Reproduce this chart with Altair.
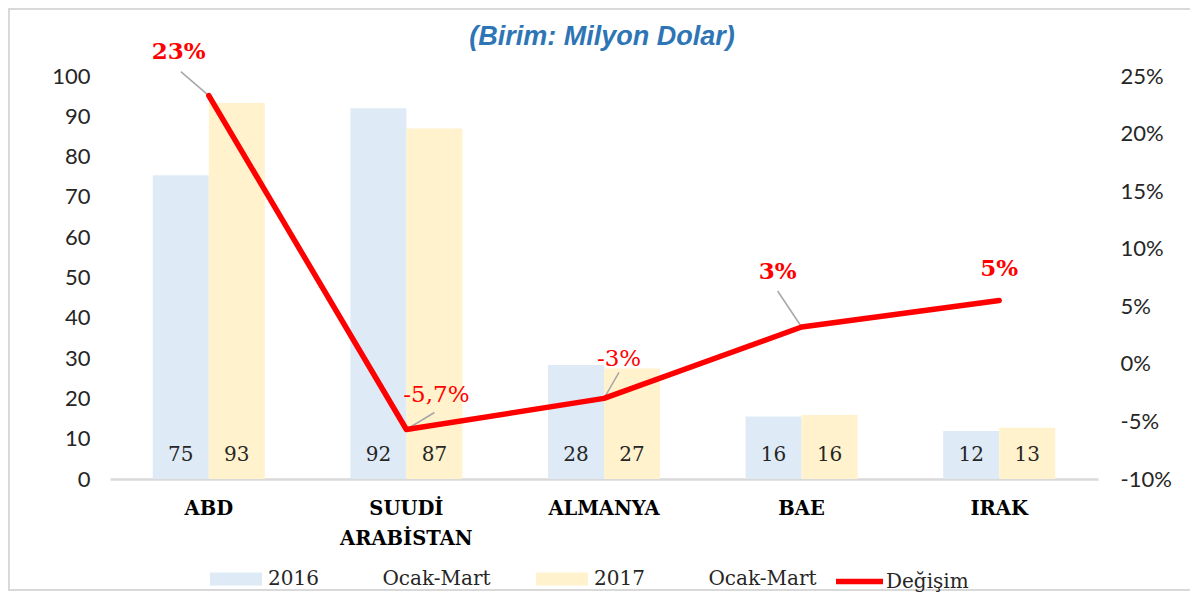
import altair as alt
import pandas as pd

NB = "\u00a0"

# ---------------- data ----------------
categories = ["ABD", "SUUDİ ARABİSTAN", "ALMANYA", "BAE", "IRAK"]
series_names = ["2016" + NB * 10 + "Ocak-Mart", "2017" + NB * 10 + "Ocak-Mart"]
values_2016 = [75.4, 92.0, 28.3, 15.5, 11.9]
values_2017 = [93.3, 87.0, 27.4, 15.9, 12.7]
change_pct = [23.3, -5.7, -3.0, 3.2, 5.5]
change_labels = ["23%", "-5,7%", "-3%", "3%", "5%"]
line_name = "Değişim"
left_ticks = [0, 10, 20, 30, 40, 50, 60, 70, 80, 90, 100]
right_ticks = [-10, -5, 0, 5, 10, 15, 20, 25]
title_text = "(Birim: Milyon Dolar)"

bar_df = pd.DataFrame(
    {
        "cat": categories * 2,
        "series": [series_names[0]] * len(categories) + [series_names[1]] * len(categories),
        "value": values_2016 + values_2017,
    }
)
line_df = pd.DataFrame(
    {"cat": categories, "pct": change_pct, "label": change_labels, "series": [line_name] * len(categories)}
)

# ---------------- styles ----------------
SERIF = "DejaVu Serif"
SANS = "Lato"
BLUE = "#DEEBF7"
YELLOW = "#FFF2CC"
RED = "#FF0000"
GRAY = "#D9D9D9"

x_scale = alt.Scale(domain=categories, paddingInner=0.433, paddingOuter=0.2165)
x_axis = alt.Axis(
    title=None,
    labelAngle=0,
    ticks=False,
    domainColor=GRAY,
    domainWidth=2.5,
    labelFont=SERIF,
    labelFontWeight="bold",
    labelFontSize=19.5,
    labelColor="#000000",
    labelPadding=20,
    labelBaseline="top",
    labelLineHeight=30,
    labelExpr="split(datum.label, ' ')",
)
left_axis = alt.Axis(
    title=None,
    values=left_ticks,
    domain=False,
    ticks=False,
    grid=False,
    labelFont=SANS,
    labelFontSize=22,
    labelColor="#262626",
    labelPadding=20,
)
right_axis = alt.Axis(
    title=None,
    orient="right",
    values=right_ticks,
    labelExpr="datum.value + '%'",
    domain=False,
    ticks=False,
    grid=False,
    labelFont=SANS,
    labelFontSize=22,
    labelColor="#262626",
    labelPadding=22,
)
left_scale = alt.Scale(domain=[0, 100], nice=False)
right_scale = alt.Scale(domain=[-10, 25], nice=False)


def X():
    return alt.X("cat:N", sort=categories, scale=x_scale, axis=x_axis)


bars = alt.Chart(bar_df).mark_bar().encode(
    x=X(),
    xOffset=alt.XOffset("series:N", sort=series_names),
    y=alt.Y("value:Q", scale=left_scale, axis=left_axis),
    fill=alt.Fill(
        "series:N",
        scale=alt.Scale(domain=series_names, range=[BLUE, YELLOW]),
        legend=alt.Legend(
            title=None,
            orient="none",
            legendX=100,
            legendY=477,
            direction="horizontal",
            symbolType="M-1,-0.25H1V0.25H-1Z",
            symbolSize=2704,
            symbolStrokeWidth=0,
            labelFont=SERIF,
            labelFontSize=20,
            labelColor="#262626",
            labelOffset=6,
            labelLimit=500,
            columnPadding=45,
            padding=0,
        ),
    ),
)

bar_text = alt.Chart(bar_df).mark_text(
    font=SERIF, fontSize=20, color="#262626", baseline="middle", dy=-24
).encode(
    x=X(),
    xOffset=alt.XOffset("series:N", sort=series_names),
    y=alt.Y(datum=0, scale=left_scale, axis=left_axis),
    text=alt.Text("value:Q", format=".0f"),
)

left = alt.layer(bars, bar_text)


def YR():
    return alt.Y("pct:Q", scale=right_scale, axis=right_axis)


line = alt.Chart(line_df).mark_line(strokeWidth=5.5, strokeCap="round", strokeJoin="round").encode(
    x=X(),
    y=YR(),
    stroke=alt.Stroke(
        "series:N",
        scale=alt.Scale(domain=[line_name], range=[RED]),
        legend=alt.Legend(
            title=None,
            orient="none",
            legendX=723,
            legendY=479,
            symbolType="stroke",
            symbolSize=2209,
            symbolStrokeWidth=5.5,
            labelFont=SERIF,
            labelFontSize=20,
            labelColor="#262626",
            labelOffset=0,
            padding=0,
        ),
    ),
)

# label placements (pixel offsets from each point): leader end dx, dy ; text dx, dy ; weight
placements = [
    (-28, -24, -30, -44, "bold"),
    (28, -17, 30, -34, "normal"),
    (15, -26, 15, -39, "normal"),
    (-24, -36, -24, -55, "bold"),
    (None, None, 0, -32, "bold"),
]

right_layers = []
for cat, (lx, ly, tx, ty, fw) in zip(categories, placements):
    base = alt.Chart(line_df).transform_filter(alt.datum.cat == cat)
    if lx is not None:
        right_layers.append(
            base.mark_rule(color="#A6A6A6", strokeWidth=1.5, x2Offset=lx, y2Offset=ly).encode(
                x=X(),
                x2="cat:N",
                y=YR(),
                y2="pct:Q",
            )
        )
right_layers.append(line)
for cat, (lx, ly, tx, ty, fw) in zip(categories, placements):
    base = alt.Chart(line_df).transform_filter(alt.datum.cat == cat)
    right_layers.append(
        base.mark_text(
            font=SERIF, fontSize=23, fontWeight=fw, color=RED, dx=tx, dy=ty, baseline="middle", align="center"
        ).encode(
            x=X(),
            y=YR(),
            text="label:N",
        )
    )

right = alt.layer(*right_layers)

frame = alt.Chart(alt.Data(values=[{}])).mark_rect(
    fill="transparent", stroke=GRAY, strokeWidth=2
).encode(
    x=alt.value(-101), x2=alt.value(1082), y=alt.value(-67), y2=alt.value(514)
)

title = alt.Chart(alt.Data(values=[{"t": title_text}])).mark_text(
    font="Liberation Sans",
    fontSize=27,
    fontStyle="italic",
    fontWeight="bold",
    color="#2E75B6",
    align="center",
    baseline="middle",
).encode(x=alt.value(492), y=alt.value(-39), text="t:N")

chart = (
    alt.layer(frame, title, left, right)
    .resolve_scale(y="independent", fill="independent", stroke="independent")
    .properties(
        width=988,
        height=403,
        padding={"left": 102, "top": 68, "right": 92, "bottom": 115},
        autosize=alt.AutoSizeParams(type="none"),
        background="white",
    )
    .configure_view(stroke=None)
)

chart.save("out.html", embed_options={"renderer": "svg", "actions": False})
